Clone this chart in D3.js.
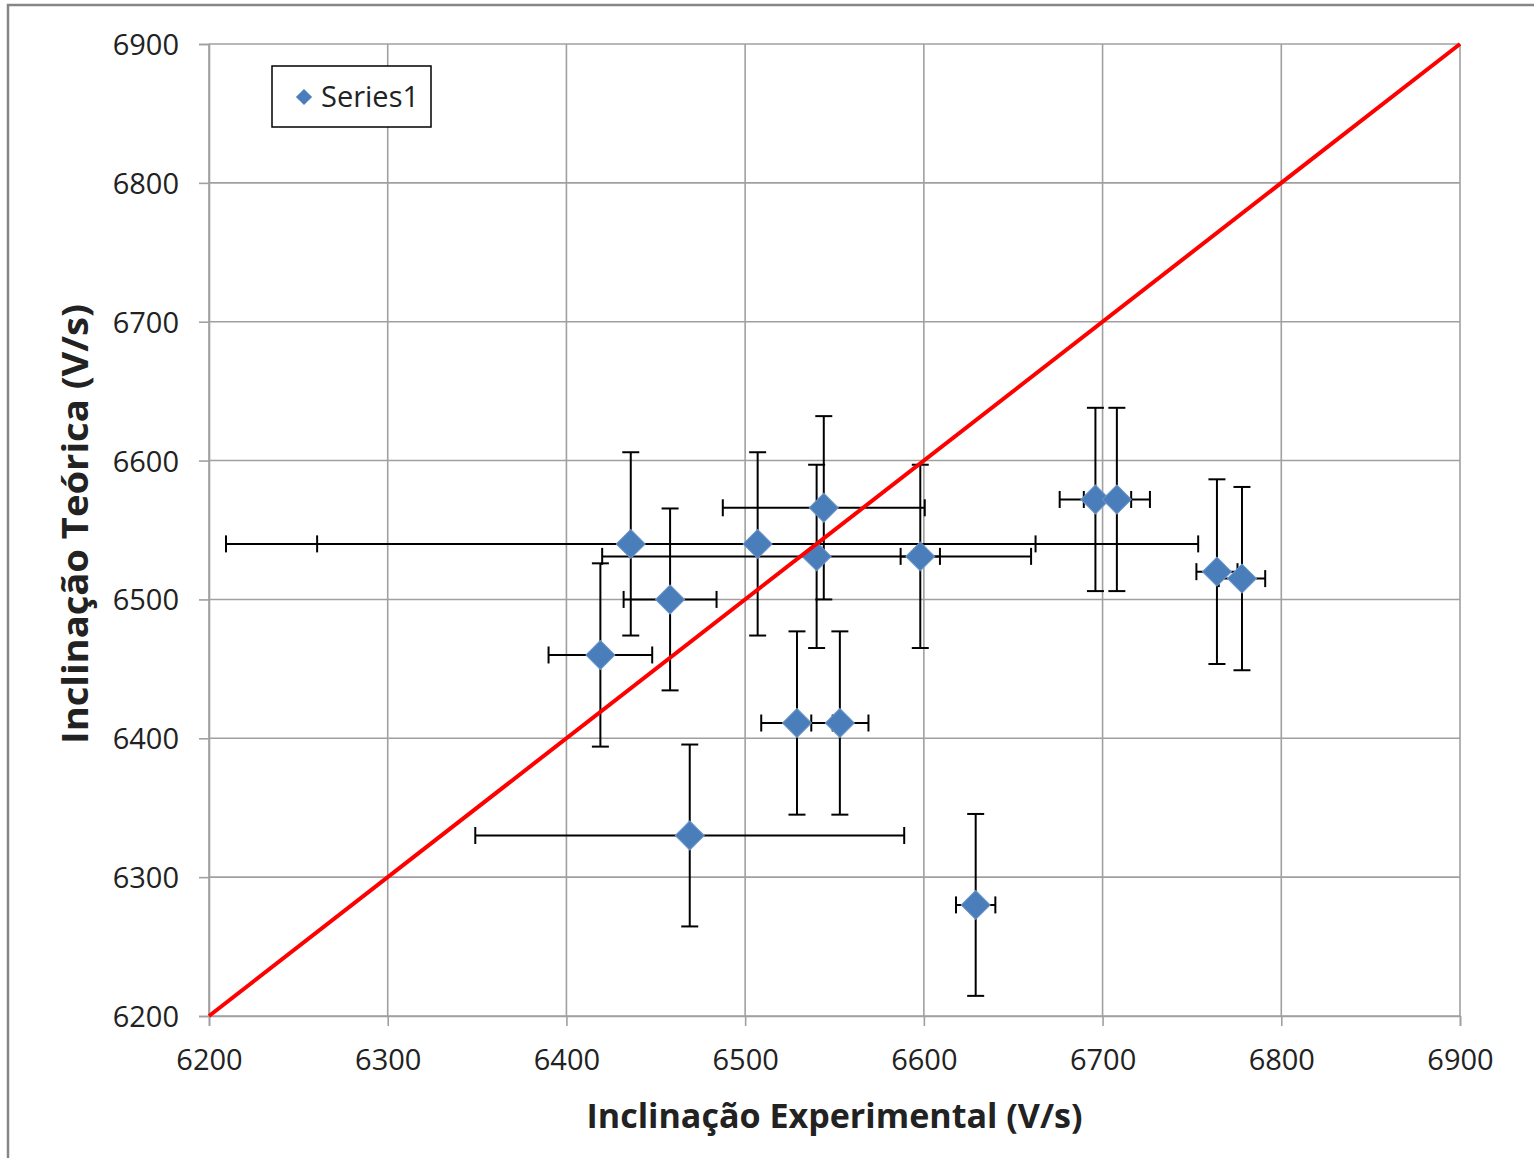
<!DOCTYPE html>
<html>
<head>
<meta charset="utf-8">
<script src="https://cdn.jsdelivr.net/npm/d3@7"></script>
<style>
  html, body { margin: 0; padding: 0; background: #fff; }
  svg { display: block; }
  text { font-family: "Open Sans", "DejaVu Sans", sans-serif; fill: #222; }
</style>
</head>
<body>
<svg id="chart" width="1534" height="1158"></svg>
<script>
// Experimental vs. theoretical slope (V/s), with error bars on both axes
const expX   = [6436, 6507, 6544, 6540, 6598, 6458, 6419, 6529, 6553, 6469, 6629, 6696, 6708, 6764, 6778];
const theoY  = [6540, 6540, 6566, 6531, 6531, 6500, 6460, 6411, 6411, 6330, 6280, 6572, 6572, 6520, 6515];
const errX   = [226.5, 246.5, 56.5, 120, 11, 26, 29, 20, 16, 120, 11, 20, 18.5, 11.5, 13];
const errY   = [66, 66, 66, 66, 66, 65.5, 66, 66, 66, 65.5, 65.5, 66, 66, 66.5, 66];
const xTicks = [6200, 6300, 6400, 6500, 6600, 6700, 6800, 6900];
const yTicks = [6200, 6300, 6400, 6500, 6600, 6700, 6800, 6900];
const refLine = [6200, 6900];          // y = x reference
const seriesName = "Series1";
const xTitle = "Inclinação Experimental (V/s)";
const yTitle = "Inclinação Teórica (V/s)";

const svg = d3.select("#chart");
const plot = { left: 209, right: 1460, top: 44, bottom: 1016 };

const x = d3.scaleLinear().domain([6200, 6900]).range([plot.left, plot.right]);
const y = d3.scaleLinear().domain([6200, 6900]).range([plot.bottom, plot.top]);

// outer chart-area frame
svg.append("rect")
  .attr("x", 8).attr("y", 5).attr("width", 1560).attr("height", 1200)
  .attr("fill", "#fff").attr("stroke", "#868686").attr("stroke-width", 2.5);

const gridColor = "#a0a0a0";

// gridlines
svg.append("g").selectAll("line.vx").data(xTicks).join("line")
  .attr("x1", d => x(d)).attr("x2", d => x(d))
  .attr("y1", plot.top).attr("y2", plot.bottom)
  .attr("stroke", gridColor).attr("stroke-width", 1.6);
svg.append("g").selectAll("line.hy").data(yTicks).join("line")
  .attr("x1", plot.left).attr("x2", plot.right)
  .attr("y1", d => y(d)).attr("y2", d => y(d))
  .attr("stroke", gridColor).attr("stroke-width", 1.6);

// axes
const xAxis = d3.axisBottom(x).tickValues(xTicks).tickSize(10).tickPadding(23).tickFormat(d3.format("d"));
const yAxis = d3.axisLeft(y).tickValues(yTicks).tickSize(10).tickPadding(20).tickFormat(d3.format("d"));

const gx = svg.append("g").attr("transform", `translate(0,${plot.bottom})`).call(xAxis);
const gy = svg.append("g").attr("transform", `translate(${plot.left},0)`).call(yAxis);
[gx, gy].forEach(g => {
  g.select(".domain").attr("stroke", gridColor).attr("stroke-width", 1.6);
  g.selectAll(".tick line").attr("stroke", gridColor).attr("stroke-width", 1.6);
  g.selectAll(".tick text")
    .attr("font-family", "'Open Sans', sans-serif")
    .attr("font-size", 29).attr("fill", "#262626");
});
gx.selectAll(".tick text").attr("dy", "0.71em");
gy.selectAll(".tick text").attr("dy", "0.36em");

// error bars
const pts = expX.map((v, i) => ({ x: v, y: theoY[i], ex: errX[i], ey: errY[i] }));
const cap = 8.5;
const eb = svg.append("g").attr("stroke", "#000").attr("stroke-width", 2).attr("fill", "none");
pts.forEach(p => {
  const cx = x(p.x), cy = y(p.y);
  const xl = x(p.x - p.ex), xr = x(p.x + p.ex);
  const yt = y(p.y + p.ey), yb = y(p.y - p.ey);
  eb.append("line").attr("x1", xl).attr("x2", xr).attr("y1", cy).attr("y2", cy);
  eb.append("line").attr("x1", xl).attr("x2", xl).attr("y1", cy - cap).attr("y2", cy + cap);
  eb.append("line").attr("x1", xr).attr("x2", xr).attr("y1", cy - cap).attr("y2", cy + cap);
  eb.append("line").attr("x1", cx).attr("x2", cx).attr("y1", yt).attr("y2", yb);
  eb.append("line").attr("x1", cx - cap).attr("x2", cx + cap).attr("y1", yt).attr("y2", yt);
  eb.append("line").attr("x1", cx - cap).attr("x2", cx + cap).attr("y1", yb).attr("y2", yb);
});

// diamond markers
const diamond = d3.symbol().type(d3.symbolSquare).size(420);
svg.append("g").selectAll("path").data(pts).join("path")
  .attr("d", diamond)
  .attr("transform", d => `translate(${x(d.x)},${y(d.y)}) rotate(45)`)
  .attr("fill", "#4a7ebb").attr("stroke", "#6c95c8").attr("stroke-width", 1);

// y = x reference line
svg.append("line")
  .attr("x1", x(refLine[0])).attr("y1", y(refLine[0]))
  .attr("x2", x(refLine[1])).attr("y2", y(refLine[1]))
  .attr("stroke", "#ff0000").attr("stroke-width", 4);

// legend
const lg = svg.append("g");
lg.append("rect").attr("x", 272).attr("y", 66).attr("width", 159).attr("height", 61)
  .attr("fill", "#fff").attr("stroke", "#000").attr("stroke-width", 1.5);
lg.append("path").attr("d", d3.symbol().type(d3.symbolSquare).size(130)())
  .attr("transform", "translate(304,97) rotate(45)")
  .attr("fill", "#4a7ebb");
lg.append("text").attr("x", 321).attr("y", 97).attr("dy", "0.36em")
  .attr("font-size", 29).attr("fill", "#262626").text(seriesName);

// axis titles
svg.append("text")
  .attr("x", (plot.left + plot.right) / 2).attr("y", 1128)
  .attr("text-anchor", "middle").attr("font-weight", "bold").attr("font-size", 34)
  .attr("fill", "#000")
  .attr("textLength", 496).attr("lengthAdjust", "spacingAndGlyphs")
  .text(xTitle);

svg.append("text")
  .attr("transform", `translate(88,${(plot.top + plot.bottom) / 2 - 6}) rotate(-90)`)
  .attr("text-anchor", "middle").attr("font-weight", "bold").attr("font-size", 35)
  .attr("fill", "#000")
  .attr("textLength", 440).attr("lengthAdjust", "spacingAndGlyphs")
  .text(yTitle);
</script>
</body>
</html>
